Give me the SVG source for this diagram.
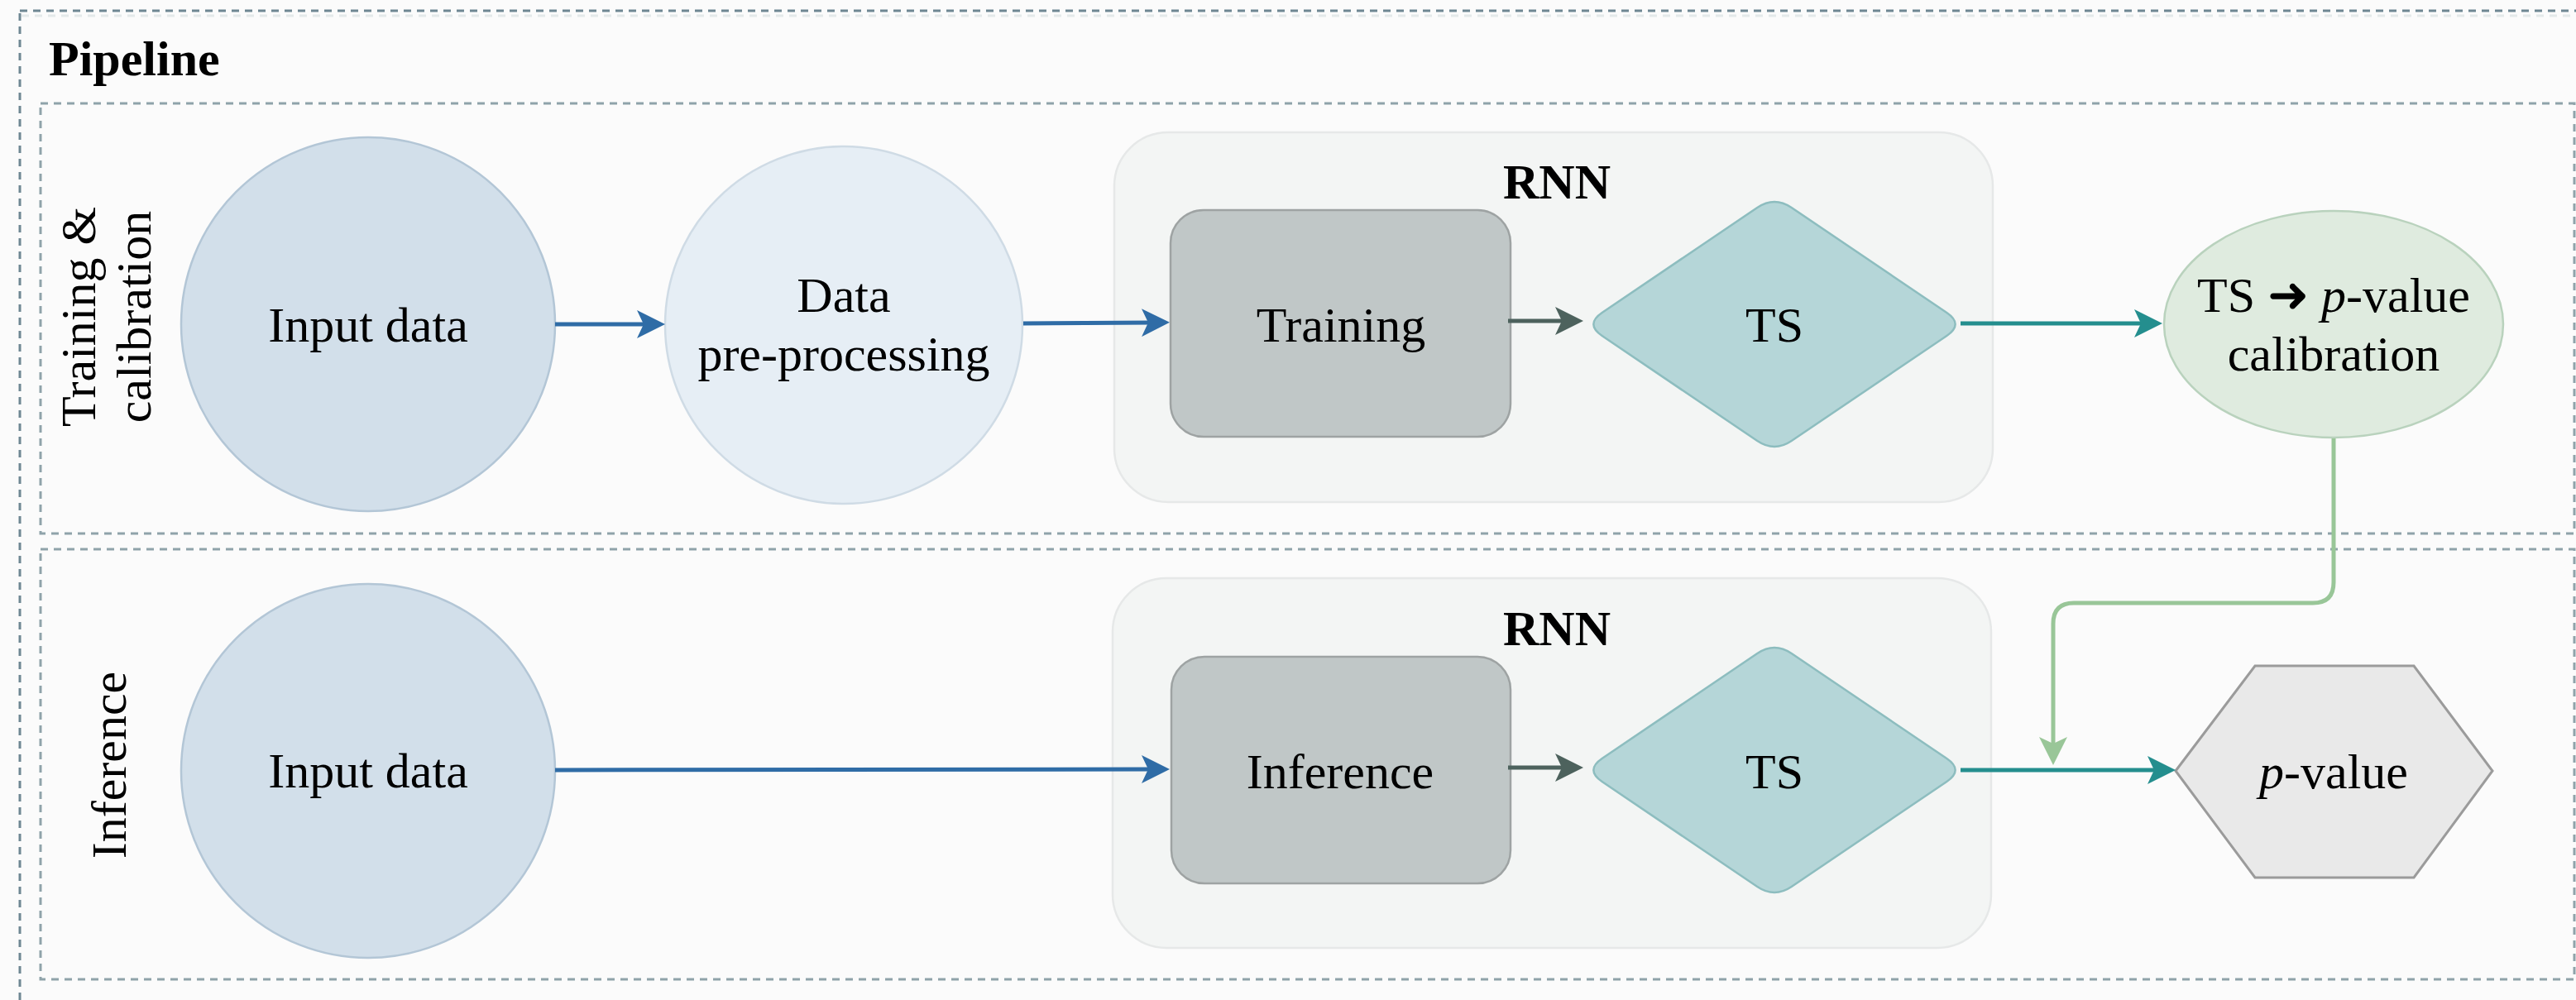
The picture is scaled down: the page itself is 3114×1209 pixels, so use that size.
<svg xmlns="http://www.w3.org/2000/svg" width="3114" height="1209" viewBox="0 0 3114 1209">
<style>
text{font-family:"Liberation Serif","Times New Roman",serif;font-size:60px;fill:#000}
.c{text-anchor:middle}
.b{font-weight:bold}
.i{font-style:italic}
.frame-outer{fill:none;stroke:#6f8793;stroke-width:3;stroke-dasharray:9 7}
.frame-inner{fill:none;stroke:#8fa3aa;stroke-width:3;stroke-dasharray:9 7}
.input{fill:#d2dfea;stroke:#b3c6d6;stroke-width:2.5}
.prep{fill:#e6eef5;stroke:#cfdbe5;stroke-width:2.5}
.rnn{fill:#f3f5f4;stroke:#e6e8e8;stroke-width:2.5}
.proc{fill:#c0c7c7;stroke:#9ea3a3;stroke-width:2.5}
.ts{fill:#b5d6d8;stroke:#8dbdbf;stroke-width:2.5}
.calib{fill:#dfebdf;stroke:#b9d2bd;stroke-width:2.5}
.hex{fill:#e9e9e9;stroke:#9b9b9b;stroke-width:3}
.edge{fill:none;stroke-width:5}
</style>
<defs>
<marker id="ah-blue" markerUnits="userSpaceOnUse" markerWidth="34" markerHeight="34" refX="14" refY="17" orient="auto"><path d="M0,0 L34,17 L0,34 L8,17 Z" fill="#2f6ca6"/></marker>
<marker id="ah-gray" markerUnits="userSpaceOnUse" markerWidth="34" markerHeight="34" refX="14" refY="17" orient="auto"><path d="M0,0 L34,17 L0,34 L8,17 Z" fill="#4d625d"/></marker>
<marker id="ah-teal" markerUnits="userSpaceOnUse" markerWidth="34" markerHeight="34" refX="14" refY="17" orient="auto"><path d="M0,0 L34,17 L0,34 L8,17 Z" fill="#248e8e"/></marker>
<marker id="ah-green" markerUnits="userSpaceOnUse" markerWidth="34" markerHeight="34" refX="14" refY="17" orient="auto"><path d="M0,0 L34,17 L0,34 L8,17 Z" fill="#99c698"/></marker>
</defs>
<rect x="0" y="0" width="3114" height="1209" fill="#fbfbfb"/>

<g id="pipeline">
<rect class="frame-outer" x="24" y="13" width="3120" height="1230"/>
<line x1="26" y1="19" x2="3114" y2="19" stroke="#e4e9ea" stroke-width="3" stroke-dasharray="9 7"/>
<text class="b" x="59" y="91">Pipeline</text>
</g>

<g id="lane-training">
<rect class="frame-inner" x="49" y="125" width="3063" height="520"/>
<text class="c" transform="translate(115,383) rotate(-90)">Training &amp;</text>
<text class="c" transform="translate(182,383) rotate(-90)">calibration</text>
</g>

<g id="lane-inference">
<rect class="frame-inner" x="49" y="664" width="3063" height="520"/>
<text class="c" transform="translate(152,925) rotate(-90)">Inference</text>
</g>

<g id="rnn-top">
<rect class="rnn" x="1347" y="160" width="1062" height="447" rx="65" ry="65"/>
<text class="c b" x="1882" y="240">RNN</text>
</g>
<g id="rnn-bottom">
<rect class="rnn" x="1345" y="699" width="1062" height="447" rx="65" ry="65"/>
<text class="c b" x="1882" y="780">RNN</text>
</g>

<g id="input-data-top">
<circle class="input" cx="445" cy="392" r="226"/>
<text class="c" x="445" y="413">Input data</text>
</g>
<g id="data-preprocessing">
<circle class="prep" cx="1020" cy="393" r="216"/>
<text class="c" x="1020" y="377">Data</text>
<text class="c" x="1020" y="448">pre-processing</text>
</g>
<g id="training">
<rect class="proc" x="1415" y="254" width="411" height="274" rx="40" ry="40"/>
<text class="c" x="1621" y="413">Training</text>
</g>
<g id="ts-top">
<path class="ts" d="M2124.3,251 Q2145,237 2165.7,251 L2353.3,378 Q2374,392 2353.3,406 L2165.7,533 Q2145,547 2124.3,533 L1936.7,406 Q1916,392 1936.7,378 Z"/>
<text class="c" x="2145" y="413">TS</text>
</g>
<g id="calibration">
<ellipse class="calib" cx="2821" cy="392" rx="205" ry="137"/>
<text class="c" x="2821" y="377">TS ➜ <tspan class="i">p</tspan>-value</text>
<text class="c" x="2821" y="448">calibration</text>
</g>

<g id="input-data-bottom">
<circle class="input" cx="445" cy="932" r="226"/>
<text class="c" x="445" y="952">Input data</text>
</g>
<g id="inference">
<rect class="proc" x="1416" y="794" width="410" height="274" rx="40" ry="40"/>
<text class="c" x="1620" y="953">Inference</text>
</g>
<g id="ts-bottom">
<path class="ts" d="M2124.3,790 Q2145,776 2165.7,790 L2353.3,917 Q2374,931 2353.3,945 L2165.7,1072 Q2145,1086 2124.3,1072 L1936.7,945 Q1916,931 1936.7,917 Z"/>
<text class="c" x="2145" y="953">TS</text>
</g>
<g id="p-value">
<polygon class="hex" points="2630,932 2726,805 2918,805 3013,932 2918,1061 2726,1061"/>
<text class="c" x="2821" y="953"><tspan class="i">p</tspan>-value</text>
</g>

<g id="connectors">
<path class="edge" stroke="#2f6ca6" d="M671,392 L784,392" marker-end="url(#ah-blue)"/>
<path class="edge" stroke="#2f6ca6" d="M1237,391 L1394,390" marker-end="url(#ah-blue)"/>
<path class="edge" stroke="#4d625d" stroke-width="6" d="M1823,388 L1894,388" marker-end="url(#ah-gray)"/>
<path class="edge" stroke="#248e8e" d="M2370,391 L2594,391" marker-end="url(#ah-teal)"/>
<path class="edge" stroke="#2f6ca6" d="M671,931 L1394,930" marker-end="url(#ah-blue)"/>
<path class="edge" stroke="#4d625d" stroke-width="6" d="M1823,928 L1894,928" marker-end="url(#ah-gray)"/>
<path class="edge" stroke="#248e8e" d="M2370,931 L2610,931" marker-end="url(#ah-teal)"/>
<path class="edge" stroke="#99c698" d="M2821,530 L2821,704 Q2821,729 2796,729 L2507,729 Q2482,729 2482,754 L2482,905" marker-end="url(#ah-green)"/>
</g>
</svg>
